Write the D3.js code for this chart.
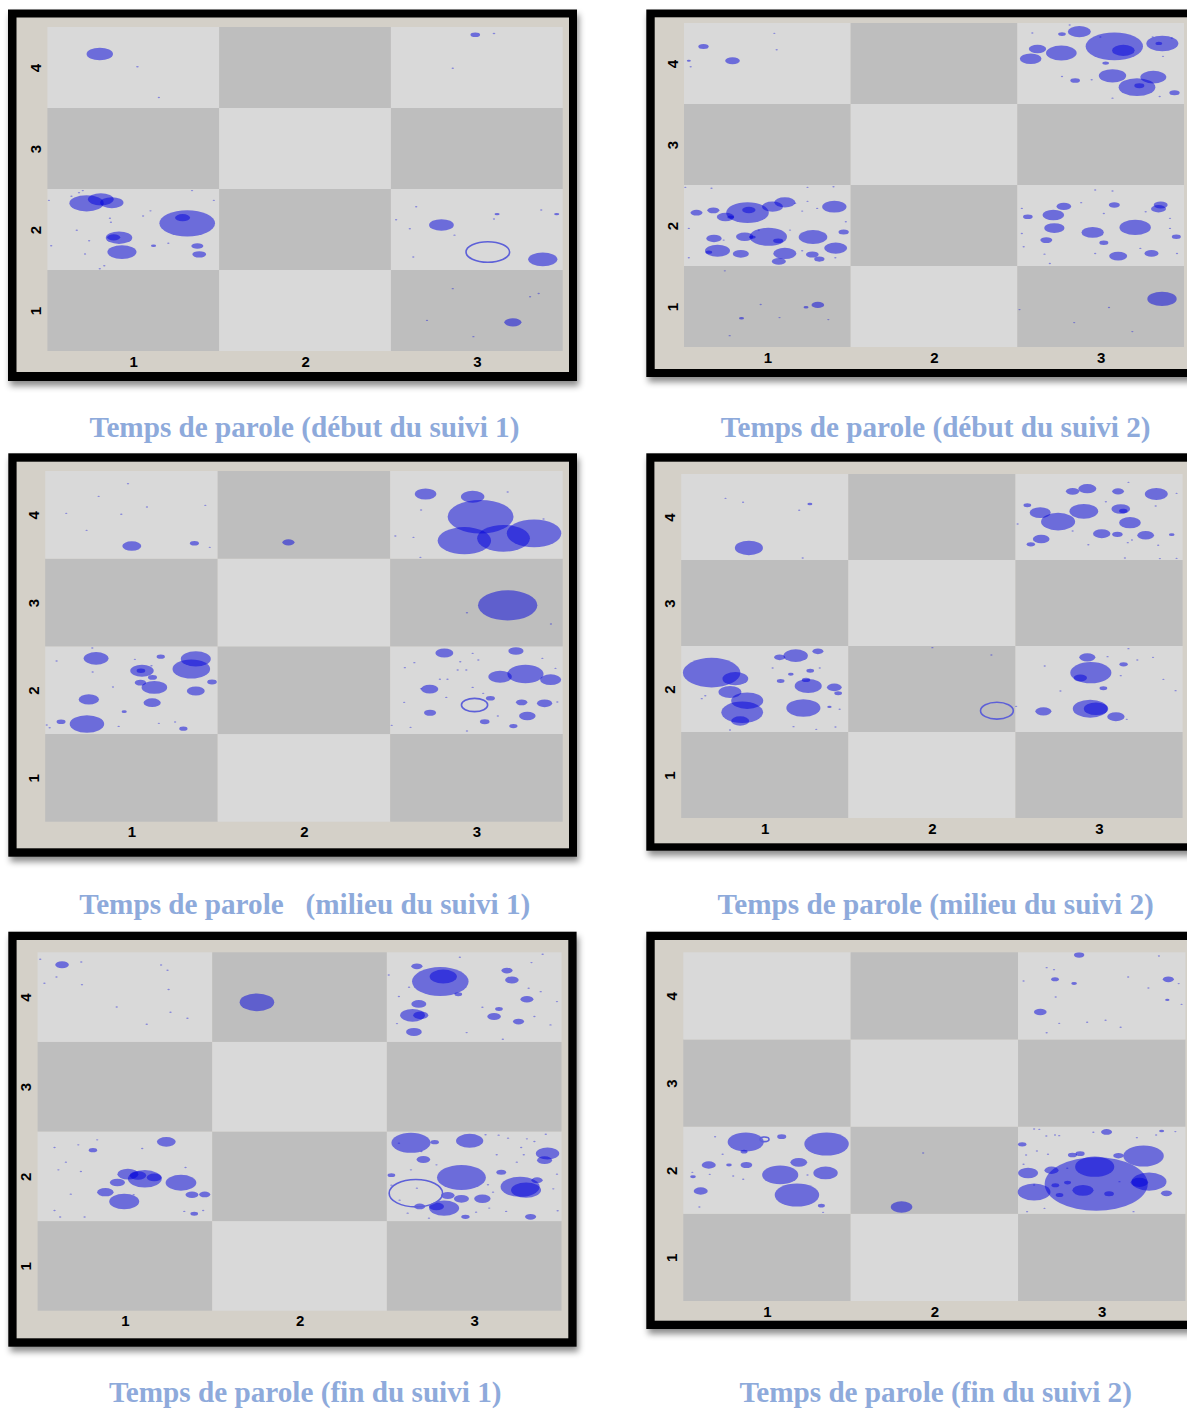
<!DOCTYPE html>
<html><head><meta charset="utf-8">
<script src="https://cdn.jsdelivr.net/npm/d3@7"></script>
<style>body{margin:0;background:#fff;}svg{display:block}</style>
</head><body>
<svg id="c" width="1187" height="1409"></svg>
<script>
// ---------- data ----------
const xCategories = [1, 2, 3];
const yCategories = [1, 2, 3, 4];
const captions = [
  "Temps de parole (début du suivi 1)",
  "Temps de parole (début du suivi 2)",
  "Temps de parole   (milieu du suivi 1)",
  "Temps de parole (milieu du suivi 2)",
  "Temps de parole (fin du suivi 1)",
  "Temps de parole (fin du suivi 2)"
];
// each point: [x, y, radius] in data units
const debut1 = [
  [0.805,4.167,0.077],[1.024,4.01,0.008],[1.149,3.63,0.007],
  [2.991,4.405,0.028],[3.10,4.42,0.008],[2.86,3.99,0.007],
  [0.728,2.323,0.1],[0.811,2.372,0.075],[0.875,2.331,0.068],
  [1.314,2.076,0.162],[1.287,2.146,0.044],
  [0.917,1.899,0.077],[0.886,1.903,0.038],
  [0.934,1.722,0.085],[1.373,1.796,0.035],[1.384,1.693,0.04],[1.118,1.80,0.015],
  [0.706,2.48,0.007],[1.342,2.48,0.007],[1.469,2.36,0.007],[0.509,2.36,0.007],[1.10,2.23,0.007],
  [1.057,2.167,0.007],[0.864,2.138,0.007],[0.87,2.09,0.007],[0.671,1.99,0.007],[0.743,1.862,0.007],
  [0.522,1.80,0.007],[1.204,1.83,0.007],[0.719,1.698,0.007],[0.831,1.553,0.007],[0.805,1.516,0.007],
  [0.64,2.41,0.007],[0.684,2.455,0.007],
  [2.794,2.056,0.072],[3.384,1.632,0.085],[3.118,2.19,0.015],[3.465,2.19,0.015],
  [3.375,2.24,0.007],[3.10,2.13,0.007],[2.647,2.28,0.007],[2.53,2.12,0.007],[2.61,2.01,0.007],
  [2.63,1.66,0.007],[2.87,1.93,0.007],
  [3.21,0.854,0.05],[2.86,1.27,0.007],[3.36,1.21,0.007],[3.31,1.17,0.007],[2.71,0.878,0.007],[2.98,0.677,0.007]
];
const debut1Rings = [[3.064,1.722,0.127]];

const debut2 = [
  [0.617,4.211,0.031],[0.791,4.034,0.044],[0.529,4.034,0.012],[1.042,4.372,0.007],[1.056,4.17,0.007],[0.54,3.96,0.007],
  [3.082,4.211,0.172],[3.136,4.162,0.068],[2.872,4.393,0.069],[3.37,4.248,0.096],[3.349,4.248,0.02],
  [2.764,4.129,0.092],[2.621,4.178,0.052],[2.58,4.059,0.065],[3.071,3.848,0.082],[3.316,3.832,0.078],
  [3.218,3.708,0.11],[3.232,3.725,0.03],[2.847,3.79,0.029],[3.443,3.638,0.031],[2.768,4.364,0.023],[3.03,4.005,0.02],
  [2.998,4.327,0.007],[2.814,4.475,0.007],[2.59,4.376,0.007],[3.312,4.327,0.007],[3.427,4.314,0.007],
  [3.374,4.088,0.007],[2.768,3.84,0.007],[3.071,3.572,0.007],[3.354,3.593,0.007],[2.946,3.799,0.007],
  [0.881,2.158,0.128],[0.889,2.191,0.04],[1.031,2.232,0.063],[1.105,2.286,0.063],[0.749,2.104,0.052],[0.78,2.104,0.02],
  [0.575,2.158,0.036],[0.676,2.187,0.036],[1.402,2.232,0.073],[1.006,1.861,0.112],[1.065,1.811,0.03],[0.91,1.857,0.02],
  [0.864,1.861,0.052],[1.274,1.857,0.086],[0.68,1.84,0.046],[0.701,1.688,0.075],[0.649,1.671,0.02],[0.841,1.65,0.048],
  [1.105,1.655,0.069],[1.069,1.556,0.042],[1.27,1.642,0.038],[1.312,1.585,0.031],[1.41,1.721,0.069],[1.458,1.919,0.031],
  [1.209,2.178,0.007],[1.167,2.273,0.007],[1.241,2.298,0.007],[1.299,2.211,0.007],[1.471,2.046,0.007],[0.529,1.964,0.007],
  [0.738,1.82,0.007],[1.209,1.688,0.007],[1.136,1.943,0.007],[0.948,1.943,0.007],[0.529,1.601,0.007],[1.408,1.601,0.007],
  [0.665,2.459,0.007],[1.241,2.471,0.007],[1.397,2.479,0.007],[0.508,2.471,0.007],
  [2.716,2.129,0.065],[2.779,2.236,0.044],[2.722,1.968,0.061],[2.563,2.108,0.029],[2.674,1.82,0.036],[2.952,1.915,0.067],
  [3.207,1.976,0.094],[3.082,2.253,0.033],[3.36,2.253,0.042],[3.347,2.207,0.045],[3.019,1.787,0.027],[3.105,1.622,0.054],
  [3.305,1.655,0.042],[3.454,1.861,0.027],
  [2.967,2.438,0.007],[3.071,2.426,0.007],[3.019,2.149,0.007],[3.27,2.17,0.007],[3.416,2.088,0.007],[2.527,1.902,0.007],
  [2.538,1.737,0.007],[2.967,1.655,0.007],[3.238,1.717,0.007],[2.663,1.646,0.007],[2.527,2.211,0.007],[2.883,2.282,0.007],
  [2.695,1.531,0.007],[3.416,1.964,0.007],[3.458,1.655,0.007],
  [1.303,1.02,0.038],[1.232,0.99,0.015],[0.845,0.855,0.015],
  [0.745,1.44,0.007],[0.96,1.024,0.007],[1.073,0.863,0.007],[1.366,0.838,0.007],[0.774,0.64,0.007],
  [3.368,1.094,0.088],[2.513,0.962,0.007],[3.05,0.987,0.007],[2.841,0.801,0.007],[3.19,0.69,0.007]
];
const debut2Rings = [];

const milieu1 = [
  [1.002,3.644,0.055],[1.365,3.675,0.026],
  [0.98,4.356,0.007],[0.81,4.211,0.007],[1.09,4.089,0.007],[1.428,4.108,0.007],[0.622,4.017,0.007],
  [0.941,4.006,0.007],[0.74,3.823,0.007],[1.454,3.629,0.007],
  [1.91,3.686,0.035],
  [2.705,4.238,0.063],[2.978,4.207,0.068],[3.024,3.979,0.191],[2.93,3.705,0.155],[3.157,3.732,0.153],[3.334,3.789,0.158],
  [3.181,4.26,0.007],[2.679,4.055,0.007],[2.53,3.758,0.007],[2.635,3.743,0.007],[2.675,3.515,0.007],[3.389,3.952,0.007],
  [3.181,2.968,0.172],[2.945,2.884,0.007],[3.432,2.755,0.007],
  [0.795,2.363,0.072],[1.373,2.356,0.087],[1.347,2.241,0.109],[1.061,2.222,0.068],[1.055,2.222,0.025],[1.122,2.146,0.026],
  [1.133,2.032,0.074],[1.052,2.086,0.033],[1.373,1.99,0.052],[1.467,2.093,0.028],[1.17,2.382,0.024],[0.753,1.895,0.059],
  [1.12,1.857,0.05],[0.742,1.614,0.1],[0.592,1.641,0.026],[1.301,1.561,0.024],[0.958,1.755,0.015],
  [0.773,2.481,0.007],[0.566,2.333,0.007],[1.02,2.352,0.007],[1.116,2.279,0.007],[0.775,2.207,0.007],[0.893,2.036,0.007],
  [0.526,1.572,0.007],[0.926,1.587,0.007],[1.159,1.622,0.007],[1.253,1.637,0.007],[0.509,1.603,0.007],
  [2.814,2.424,0.052],[3.229,2.447,0.044],[3.284,2.184,0.105],[3.137,2.154,0.068],[3.43,2.12,0.061],[2.729,2.013,0.05],
  [3.081,1.907,0.026],[3.262,1.861,0.033],[3.395,1.85,0.044],[2.731,1.743,0.035],[3.295,1.705,0.048],[3.048,1.64,0.028],
  [3.214,1.591,0.024],
  [2.585,2.257,0.007],[2.64,2.314,0.007],[2.906,2.325,0.007],[2.978,2.42,0.007],[3.011,2.344,0.007],[2.941,2.23,0.007],
  [2.788,2.124,0.007],[2.832,2.124,0.007],[2.679,2.017,0.007],[2.978,2.032,0.007],[3.039,1.964,0.007],[2.581,1.861,0.007],
  [2.825,1.918,0.007],[3.124,1.705,0.007],[2.509,1.599,0.007],[2.618,1.576,0.007],[2.945,1.534,0.007],[3.469,1.865,0.007],
  [3.382,2.363,0.007],[3.458,2.249,0.007],[2.891,2.23,0.007]
];
const milieu1Rings = [[2.989,1.831,0.076]];

const milieu2 = [
  [0.905,3.64,0.084],[1.27,4.151,0.015],
  [0.765,4.217,0.007],[0.87,4.171,0.007],[1.206,4.078,0.007],[1.227,3.523,0.007],
  [2.93,4.329,0.054],[2.842,4.298,0.04],[3.114,4.298,0.035],[3.343,4.267,0.069],[2.909,4.066,0.086],[2.648,4.05,0.063],
  [2.755,3.946,0.102],[3.13,4.093,0.056],[3.145,4.07,0.025],[3.185,3.934,0.065],[3.016,3.806,0.052],[3.11,3.798,0.031],
  [3.279,3.787,0.05],[2.654,3.744,0.05],[2.592,3.682,0.025],[2.571,4.136,0.023],[3.435,3.795,0.017],
  [3.176,4.403,0.007],[3.464,4.275,0.007],[3.041,4.178,0.007],[3.339,4.128,0.007],[2.513,3.919,0.007],[2.842,3.837,0.007],
  [2.936,3.678,0.007],[3.197,3.733,0.007],[3.172,3.702,0.007],[3.354,3.671,0.007],[3.155,3.523,0.007],[3.364,3.516,0.007],
  [3.464,3.519,0.007],
  [0.682,2.19,0.172],[0.824,2.12,0.077],[0.792,1.965,0.069],[0.895,1.864,0.096],[0.865,1.729,0.125],[0.853,1.628,0.054],
  [1.185,2.388,0.073],[1.089,2.368,0.033],[1.318,2.438,0.033],[1.26,2.035,0.081],[1.247,2.105,0.025],[1.231,1.779,0.102],
  [1.416,2.019,0.044],[1.439,1.95,0.023],[1.272,2.213,0.023],[1.156,2.171,0.017],[1.095,2.093,0.023],[1.387,1.791,0.013],
  [1.047,2.244,0.007],[1.329,2.244,0.007],[0.644,1.922,0.007],[0.623,1.888,0.007],[1.172,1.562,0.007],[1.308,1.531,0.007],
  [1.423,1.558,0.007],[0.792,1.523,0.007],[1.448,1.764,0.007],
  [2.003,2.481,0.007],[2.356,2.395,0.007],[2.504,1.798,0.007],
  [2.951,2.19,0.123],[2.888,2.128,0.04],[2.93,2.368,0.048],[2.947,1.771,0.104],[2.982,1.771,0.073],[3.101,1.678,0.052],
  [2.667,1.74,0.048],[3.147,2.287,0.025],[3.026,2.008,0.023],
  [3.176,2.469,0.007],[3.051,2.376,0.007],[3.229,2.337,0.007],[3.323,2.368,0.007],[2.675,2.267,0.007],[3.13,2.155,0.007],
  [3.385,2.112,0.007],[3.458,1.981,0.007],[2.769,1.977,0.007],[3.166,1.647,0.007]
];
const milieu2Rings = [[2.389,1.748,0.098]];

const fin1 = [
  [0.64,4.362,0.039],
  [0.515,4.422,0.007],[0.75,4.392,0.007],[0.608,4.225,0.007],[0.754,4.139,0.007],[0.539,4.154,0.007],[1.207,4.359,0.007],
  [1.244,4.3,0.007],[1.25,4.084,0.007],[0.953,3.89,0.007],[1.261,3.831,0.007],[1.358,3.764,0.007],[1.125,3.697,0.007],
  [1.756,3.942,0.099],
  [2.806,4.173,0.162],[2.823,4.229,0.078],[2.672,4.344,0.032],[3.188,4.296,0.032],[3.216,4.191,0.039],[3.302,3.976,0.037],
  [2.683,3.924,0.043],[2.647,3.797,0.071],[2.694,3.797,0.043],[3.114,3.783,0.039],[3.254,3.727,0.032],[2.655,3.611,0.045],
  [3.142,3.868,0.022],[2.909,4.032,0.022],
  [2.569,4.006,0.007],[3.047,3.887,0.007],[3.437,3.69,0.007],[2.918,4.444,0.007],[3.328,4.385,0.007],[3.392,4.478,0.007],
  [2.511,4.247,0.007],[3.312,4.099,0.007],[3.381,4.061,0.007],[3.345,3.783,0.007],[3.474,3.95,0.007],[2.627,4.11,0.007],
  [2.957,3.604,0.007],[3.164,3.53,0.007],[2.558,3.704,0.007],
  [1.237,2.385,0.054],[0.817,2.292,0.024],[1.017,2.024,0.06],[1.114,1.972,0.097],[1.075,2.009,0.047],[1.168,1.987,0.043],
  [0.957,1.931,0.043],[1.321,1.928,0.088],[0.888,1.823,0.047],[0.996,1.719,0.086],[1.384,1.794,0.037],[1.457,1.797,0.032],
  [1.397,1.582,0.022],
  [0.733,2.351,0.007],[0.841,2.407,0.007],[0.597,2.322,0.007],[1.099,2.31,0.007],[0.662,2.158,0.007],[0.619,2.072,0.007],
  [0.748,2.054,0.007],[0.69,1.801,0.007],[0.597,1.619,0.007],[0.629,1.545,0.007],[0.769,1.545,0.007],[1.05,1.794,0.007],
  [1.34,1.608,0.007],[1.448,1.619,0.007],[1.347,2.099,0.007],
  [2.638,2.374,0.112],[2.974,2.396,0.078],[2.709,2.188,0.039],[2.927,1.987,0.14],[3.263,1.883,0.112],[3.297,1.846,0.086],
  [3.42,2.255,0.067],[3.403,2.18,0.043],[3.155,2.046,0.028],[3.36,1.957,0.032],[3.047,1.749,0.047],[2.927,1.749,0.043],
  [2.828,1.645,0.086],[2.784,1.664,0.043],[2.849,1.786,0.039],[2.688,1.664,0.032],[3.323,1.548,0.032],[2.95,1.548,0.024],
  [2.526,2.013,0.022],[2.774,2.381,0.024],
  [2.569,2.37,0.007],[3.065,2.463,0.007],[3.14,2.459,0.007],[3.194,2.426,0.007],[3.269,2.322,0.007],[3.302,2.418,0.007],
  [3.345,2.388,0.007],[3.41,2.47,0.007],[3.129,2.24,0.007],[3.284,2.24,0.007],[3.244,2.158,0.007],[2.784,2.128,0.007],
  [2.638,2.072,0.007],[2.526,1.901,0.007],[3.079,1.905,0.007],[3.108,1.823,0.007],[3.474,2.024,0.007],[3.453,1.86,0.007],
  [2.619,1.589,0.007],[2.741,1.533,0.007],[3.183,1.608,0.007],[3.086,1.645,0.007],[3.011,1.6,0.007],[3.478,1.615,0.007],
  [2.672,1.868,0.007],[2.573,1.734,0.007],[2.698,2.277,0.007]
];
const fin1Rings = [[2.666,1.812,0.153]];

const fin2 = [
  [2.865,4.469,0.031],[2.721,4.19,0.023],[2.835,4.141,0.017],[3.398,4.19,0.033],[2.633,3.815,0.038],[3.392,3.953,0.013],
  [3.342,4.458,0.007],[2.671,4.324,0.007],[2.715,4.301,0.007],[2.533,4.171,0.007],[3.158,4.217,0.007],[3.279,4.091,0.007],
  [3.46,4.141,0.007],[2.725,3.988,0.007],[3.477,3.903,0.007],[2.746,3.685,0.007],[2.913,3.697,0.007],[3.023,3.72,0.007],
  [3.113,3.64,0.007],[2.671,3.578,0.007],
  [0.873,2.324,0.108],[1.088,2.385,0.027],[1.356,2.301,0.133],[0.863,2.213,0.021],[0.652,2.06,0.042],[0.877,2.06,0.035],
  [0.773,2.06,0.017],[1.19,2.091,0.05],[1.079,1.946,0.108],[1.35,1.969,0.073],[0.604,1.762,0.042],[1.179,1.716,0.133],
  [1.325,1.594,0.021],[0.558,1.926,0.017],
  [0.69,2.385,0.007],[0.735,2.183,0.007],[0.658,1.953,0.007],[0.798,1.934,0.007],[0.858,1.896,0.007],[0.596,1.578,0.007],
  [1.335,1.517,0.007],[0.554,1.976,0.007],[1.242,1.946,0.007],
  [1.804,1.578,0.065],[1.933,2.198,0.007],
  [2.967,1.842,0.308],[2.958,2.041,0.117],[3.25,2.163,0.121],[3.283,1.869,0.104],[3.225,1.861,0.052],[2.596,1.75,0.098],
  [2.56,1.968,0.06],[2.888,1.769,0.063],[3.029,2.439,0.033],[2.7,2.0,0.042],[2.825,2.175,0.027],[2.871,2.19,0.027],
  [3.1,2.167,0.031],[3.387,1.735,0.033],[2.525,2.297,0.025],[3.044,1.731,0.029],[2.748,1.716,0.023],[2.723,1.827,0.023],
  [2.796,1.858,0.021],[3.358,2.45,0.015],
  [2.596,2.473,0.007],[2.627,2.469,0.007],[2.669,2.393,0.007],[2.721,2.404,0.007],[2.746,2.397,0.007],[2.95,2.435,0.007],
  [3.21,2.374,0.007],[3.325,2.404,0.007],[3.44,2.443,0.007],[2.613,2.221,0.007],[2.679,2.183,0.007],[2.533,2.068,0.007],
  [2.548,2.175,0.007],[2.596,1.831,0.007],[2.658,1.563,0.007],[2.554,1.525,0.007],[3.19,1.525,0.007],[3.106,1.869,0.007],
  [2.794,2.022,0.007]
];
const fin2Rings = [[0.985,2.355,0.027]];

// ---------- layout ----------
const panels = [
  {pts: debut1,  rings: debut1Rings,  caption: captions[0], frame:[8,9.5,577,381],   inner:[16.5,17.5,569,372],   plot:[47.4,27,562.7,351],     cap:[304.5,437]},
  {pts: debut2,  rings: debut2Rings,  caption: captions[1], frame:[646.3,9.5,1210,377], inner:[654.7,17.3,1210,369], plot:[684,23,1184,347],     cap:[935.7,437]},
  {pts: milieu1, rings: milieu1Rings, caption: captions[2], frame:[8.3,453.3,577,856.7], inner:[16.6,461.7,569,848.3], plot:[45.2,471,562.7,821.7], cap:[304.8,914]},
  {pts: milieu2, rings: milieu2Rings, caption: captions[3], frame:[646.3,453.3,1210,850.7], inner:[654.4,461.7,1210,843.3], plot:[681.2,474,1182.6,818], cap:[935.7,914]},
  {pts: fin1,    rings: fin1Rings,    caption: captions[4], frame:[8.3,931.7,576.6,1346.7], inner:[16.6,940,568.3,1338.3], plot:[37.6,952.3,561.5,1310.7], cap:[305.3,1402]},
  {pts: fin2,    rings: fin2Rings,    caption: captions[5], frame:[646.3,931.7,1210,1329], inner:[654.7,940,1210,1320.7], plot:[683.3,952.3,1185.4,1301], cap:[935.7,1402]}
];

const svg = d3.select("#c");
const defs = svg.append("defs");
const f = defs.append("filter").attr("id","shadow").attr("x","-5%").attr("y","-5%").attr("width","115%").attr("height","115%");
f.append("feDropShadow").attr("dx",2).attr("dy",5).attr("stdDeviation",3).attr("flood-color","#000").attr("flood-opacity",0.45);

const labelFont = "'Liberation Sans', Arial, sans-serif";

panels.forEach((p, k) => {
  const g = svg.append("g");
  const [fx0, fy0, fx1, fy1] = p.frame;
  g.append("rect").attr("x",fx0).attr("y",fy0).attr("width",fx1-fx0).attr("height",fy1-fy0)
    .attr("fill","#000").attr("filter","url(#shadow)");
  const [ix0, iy0, ix1, iy1] = p.inner;
  g.append("rect").attr("x",ix0).attr("y",iy0).attr("width",ix1-ix0).attr("height",iy1-iy0).attr("fill","#d4d0c8");

  const [px0, py0, px1, py1] = p.plot;
  const x = d3.scaleLinear().domain([0.5, 3.5]).range([px0, px1]);
  const y = d3.scaleLinear().domain([0.5, 4.5]).range([py1, py0]);

  const cells = [];
  xCategories.forEach(i => yCategories.forEach(j => cells.push({i, j})));
  g.append("g").selectAll("rect").data(cells).join("rect")
    .attr("x", d => x(d.i - 0.5)).attr("y", d => y(d.j + 0.5))
    .attr("width", d => x(d.i + 0.5) - x(d.i - 0.5))
    .attr("height", d => y(d.j - 0.5) - y(d.j + 0.5))
    .attr("fill", d => (d.i + d.j) % 2 === 0 ? "#bebebe" : "#d9d9d9");

  const clipId = "clip" + k;
  defs.append("clipPath").attr("id", clipId).append("rect")
    .attr("x", px0).attr("y", py0).attr("width", px1 - px0).attr("height", py1 - py0);

  const marks = g.append("g").attr("clip-path", `url(#${clipId})`);
  marks.selectAll("ellipse.pt").data(p.pts).join("ellipse").attr("class","pt")
    .attr("cx", d => x(d[0])).attr("cy", d => y(d[1]))
    .attr("rx", d => Math.max(1.1, x(d[0] + d[2]) - x(d[0])))
    .attr("ry", d => Math.max(0.7, y(d[1]) - y(d[1] + d[2])))
    .attr("fill", "rgb(0,0,220)").attr("fill-opacity", d => d[2] < 0.01 ? 0.38 : 0.5);
  marks.selectAll("ellipse.ring").data(p.rings).join("ellipse").attr("class","ring")
    .attr("cx", d => x(d[0])).attr("cy", d => y(d[1]))
    .attr("rx", d => x(d[0] + d[2]) - x(d[0]))
    .attr("ry", d => y(d[1]) - y(d[1] + d[2]))
    .attr("fill", "none").attr("stroke", "#5d60d8").attr("stroke-width", 1.6);

  const xa = g.append("g").attr("transform", `translate(0,${py1})`)
    .call(d3.axisBottom(x).tickValues(xCategories).tickSize(0).tickPadding(5).tickFormat(d3.format("d")));
  xa.select(".domain").remove();
  xa.selectAll("text").attr("font-family", labelFont).attr("font-size",15).attr("font-weight","bold").attr("fill","#000");

  const ya = g.append("g").attr("transform", `translate(${px0},0)`)
    .call(d3.axisLeft(y).tickValues(yCategories).tickSize(0).tickFormat(d3.format("d")));
  ya.select(".domain").remove();
  ya.selectAll("text")
    .attr("x", null).attr("dy", null)
    .attr("text-anchor", "middle").attr("dominant-baseline", "central")
    .attr("transform", "translate(-12,0) rotate(-90)")
    .attr("font-family", labelFont).attr("font-size",15).attr("font-weight","bold").attr("fill","#000");

  svg.append("text").attr("x", p.cap[0]).attr("y", p.cap[1])
    .attr("text-anchor","middle").style("white-space","pre")
    .attr("font-family","'Liberation Serif', 'Times New Roman', serif").attr("font-weight","bold")
    .attr("font-size", 29.2).attr("fill","#8eaadb")
    .text(p.caption);
});
</script>
</body></html>
